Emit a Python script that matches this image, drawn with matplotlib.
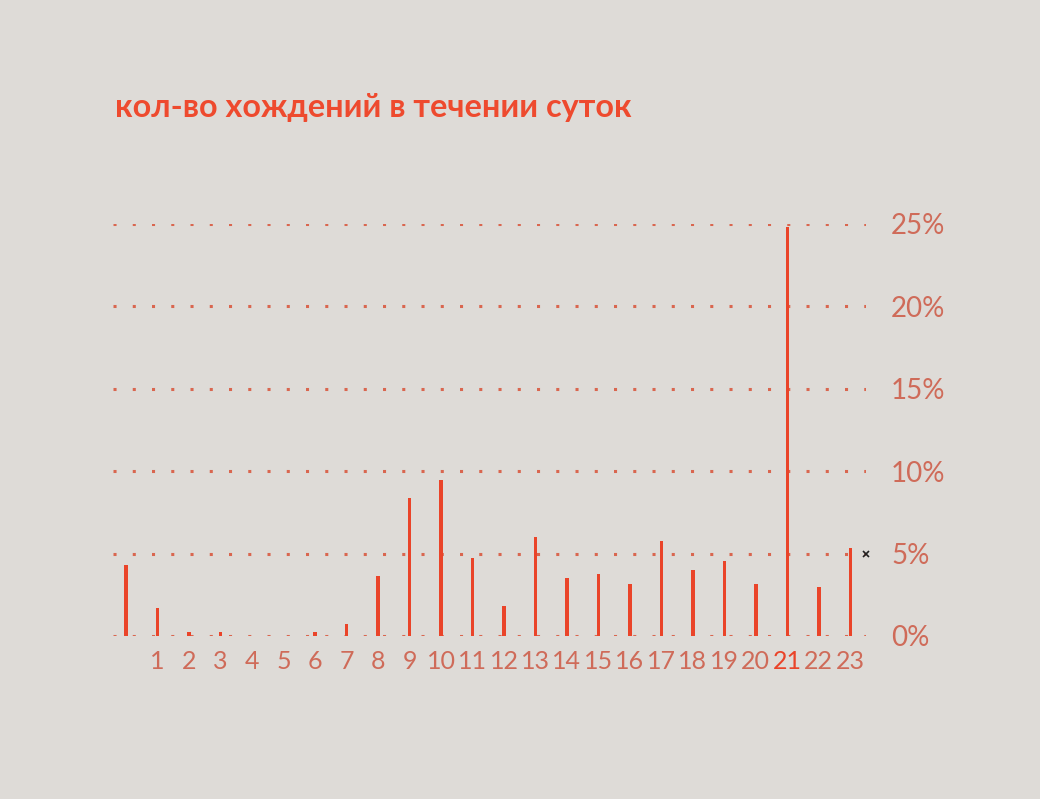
import matplotlib.pyplot as plt
import numpy as np

hours = list(range(24))
share = [4.3, 1.7, 0.25, 0.25, 0.0, 0.0, 0.25, 0.7, 3.65, 8.4, 9.45, 4.75,
         1.85, 6.0, 3.5, 3.75, 3.15, 5.75, 4.0, 4.55, 3.15, 24.8, 2.95, 5.35]
hour_labels = [""] + [str(h) for h in hours[1:]]
y_ticks = [0, 5, 10, 15, 20, 25]
y_labels = [f"{v}%" for v in y_ticks]
title = "кол-во хождений в течении суток"
highlight = 21

BG = "#dedbd7"
BAR = "#ea4429"
LABEL = "#cf6b59"
GRID = "#d9664f"

fig = plt.figure(figsize=(10.4, 7.99), dpi=100, facecolor=BG)
ax = fig.add_axes([113 / 1040, 1 - 636 / 799, (866 - 113) / 1040, (636 - 224) / 799])
ax.set_facecolor(BG)

ax.bar(hours, share, width=0.11, color=BAR, zorder=3, clip_on=False)

for v in y_ticks:
    ln, = ax.plot([-0.42, 23.5], [v, v], color=GRID, lw=2.2, zorder=2,
                  solid_capstyle="butt", dash_capstyle="butt")
    ln.set_dashes((1, 5.3))

ax.plot([23.5], [5], marker="x", color="#222222", ms=5, mew=1.2, zorder=4, clip_on=False)

ax.set_xlim(-0.42, 23.5)
ax.set_ylim(0, 25)
for s in ax.spines.values():
    s.set_visible(False)

ax.set_xticks(hours)
ax.set_xticklabels(hour_labels, fontsize=18, color=LABEL, fontfamily="Lato")
ax.get_xticklabels()[highlight].set_color(BAR)
ax.tick_params(axis="x", length=0, pad=10)

ax.yaxis.tick_right()
ax.set_yticks(y_ticks)
ax.set_yticklabels(y_labels, fontsize=20, color=LABEL, fontfamily="Lato", va="center_baseline")
ax.tick_params(axis="y", length=0, pad=18)

fig.text(115 / 1040, 1 - 107 / 799, title, fontsize=23.3, fontweight="bold",
         color="#ee4a2e", fontfamily="Lato", va="center", ha="left")

fig.savefig("out.png", dpi=100, facecolor=BG)
